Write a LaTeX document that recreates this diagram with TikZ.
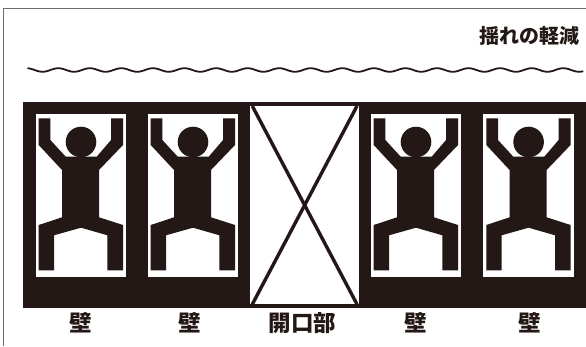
\documentclass[tikz,border=0pt]{standalone}
\usepackage{fontspec}
\setmainfont{Noto Sans CJK JP}[BoldFont={Noto Sans CJK JP Black}]
\definecolor{wallblack}{HTML}{231815}
\definecolor{framegray}{HTML}{6E6A68}
\tikzset{
  wall label/.style={font=\fontsize{22.5}{22.5}\selectfont\bfseries, text=wallblack, inner sep=0pt},
  person/.style={fill=wallblack, draw=none}
}
\begin{document}
\begin{tikzpicture}[x=1pt, y=-1pt, every node/.style={anchor=center}]
    \useasboundingbox (0,0) rectangle (586,346);
    \fill[white] (0,0) rectangle (586,346);

    % Moldura
    \draw[framegray, line width=1.1pt] (3.5,346) -- (3.5,8.7) -- (586,8.7);

    % Titulo e onda
    \node[wall label, font=\fontsize{20}{20}\selectfont\bfseries, anchor=east] (title) at (579.5,35.5) {揺れの軽減};
    \draw[wallblack, line width=1.8pt, line cap=round, smooth]
        plot[domain=28:582.7, samples=240] (\x, {70-1.8*cos((\x-58.3)/31.56*360)});

    % Parede
    \fill[wallblack] (22.7,102.3) rectangle (586,308.3);

    % Abertura
    \fill[white] (250,106) rectangle (359,304.3);
    \draw[wallblack, line width=3.4pt] (252.3,106) -- (357,304.3);
    \draw[wallblack, line width=3.4pt] (357,106) -- (252.3,304.3);

    % Janelas com figuras
    \foreach \wx in {35.7,147.7,370.7,483.3} {
        \begin{scope}[shift={(\wx,114)}]
            \fill[white] (0,0) rectangle (90.5,162.7);
            \fill[person] (3,4.3) -- (14.7,4.3) -- (14.7,26) -- (30,42.7) -- (61,42.7)
                -- (75.3,26) -- (75.3,4.3) -- (87.3,4.3) -- (87.3,31) -- (63.3,56)
                -- (63.3,103.3) -- (87.3,111) -- (87.3,156.3) -- (71.7,156.3)
                -- (71.7,121.3) -- (45.3,113.7) -- (18.3,121.3) -- (18.3,156.3)
                -- (3,156.3) -- (3,111) -- (26.3,103.3) -- (26.3,56) -- (3,31) -- cycle;
            \fill[person] (45.3,28) circle[radius=15.3pt];
        \end{scope}
    }

    % Rotulos
    \node[wall label] (wallA) at (80.3,323) {壁};
    \node[wall label] (wallB) at (190,323) {壁};
    \node[wall label] (opening) at (302.5,323) {開口部};
    \node[wall label] (wallC) at (415.8,323) {壁};
    \node[wall label] (wallD) at (529.7,323) {壁};
\end{tikzpicture}
\end{document}
